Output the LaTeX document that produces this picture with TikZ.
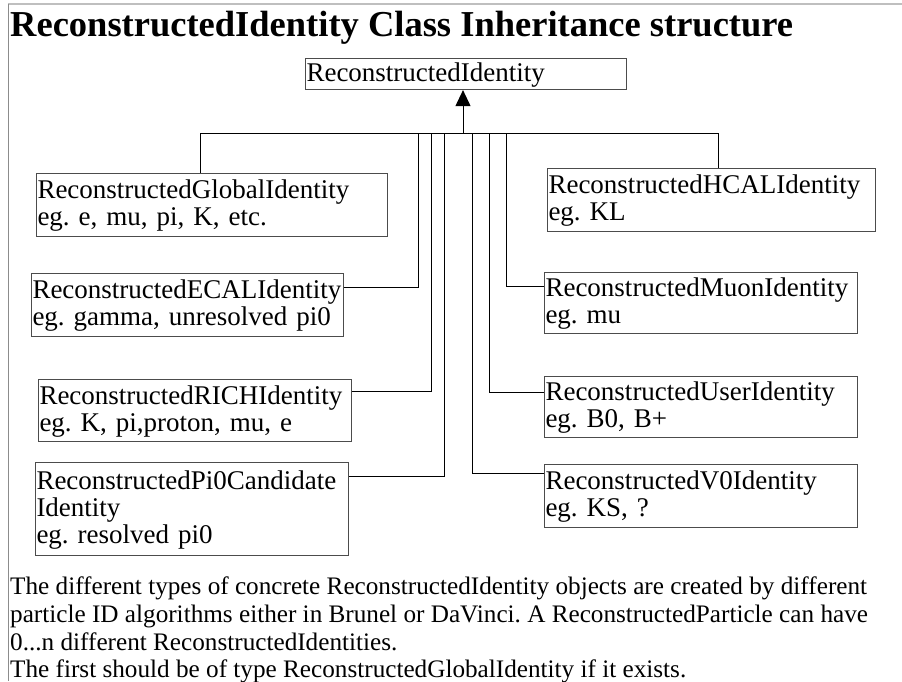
\documentclass[tikz,border=0pt]{standalone}
\usepackage{fontspec}
\setmainfont{Liberation Serif}
\usetikzlibrary{arrows.meta}
\frenchspacing

\newcommand{\boxfont}{\fontsize{27}{27}\selectfont}
\newcommand{\notefont}{\fontsize{25.2}{28}\selectfont}
\newcommand{\titlefont}{\fontsize{36.5}{40}\selectfont\bfseries}
\newcommand{\firstrow}{\rule{0pt}{23pt}}

\tikzset{
  idbox/.style 2 args={draw=black!70, line width=1pt, anchor=north west, inner xsep=1pt, inner ysep=0pt,
    align=left, font=\boxfont, text width=#1, minimum height=#2},
  note/.style={anchor=base west, inner sep=0pt, font=\notefont},
  link/.style={line width=1pt, black},
}

\begin{document}
\begin{tikzpicture}[x=1pt, y=-1pt]
\useasboundingbox (0,0) rectangle (902,681);
\draw[black!25, line width=2pt] (8,4) -- (902,4);
\draw[black!45, line width=1pt] (8,4) -- (8,681);

\node[anchor=base west, inner sep=0pt, font=\titlefont] (title) at (10,36) {ReconstructedIdentity Class Inheritance structure};

\node[idbox={319pt}{31pt}] (root) at (305,58) {\firstrow ReconstructedIdentity\strut};

\node[idbox={349pt}{63pt}] (global) at (36,173) {\firstrow ReconstructedGlobalIdentity\\eg. e, mu, pi, K, etc.\strut};
\node[idbox={310pt}{63pt}] (ecal) at (31,273) {\firstrow ReconstructedECALIdentity\\eg. gamma, unresolved pi0\strut};
\node[idbox={311pt}{62pt}] (rich) at (38,379) {\firstrow ReconstructedRICHIdentity\\eg. K, pi,proton, mu, e\strut};
\node[idbox={311pt}{93pt}] (pi0) at (35,462) {\firstrow ReconstructedPi0Candidate\\Identity\\eg. resolved pi0\strut};

\node[idbox={326pt}{63pt}] (hcal) at (547,168) {\firstrow ReconstructedHCALIdentity\\eg. KL\strut};
\node[idbox={311pt}{61pt}] (muon) at (544,272) {\firstrow ReconstructedMuonIdentity\\eg. mu\strut};
\node[idbox={311pt}{61pt}] (user) at (544,376) {\firstrow ReconstructedUserIdentity\\eg. B0, B+\strut};
\node[idbox={311pt}{63pt}] (v0) at (544,464) {\firstrow ReconstructedV0Identity\\eg. KS, ?\strut};

\coordinate (bL) at (200,133);
\coordinate (bR) at (718,133);
\coordinate (bA) at (463,133);
\draw[link] (bL) -- (bR);
\draw[link, -{Triangle[width=15pt,length=16pt]}] (bA) -- (root.south -| bA);
\draw[link] (bL) -- (bL |- global.north);
\draw[link] (bR) -- (bR |- hcal.north);
\foreach \bx/\bname/\dy/\sd in {418/ecal/14/east, 431/rich/12/east, 444/pi0/14/east,
                               472/v0/9/west, 489/user/16/west, 506/muon/14/west} {
  \coordinate (t\bname) at (\bx,133);
  \draw[link] (t\bname) |- ([yshift=-\dy pt]\bname.north \sd);
}

\node[note] (noteA) at (10,594) {The different types of concrete ReconstructedIdentity objects are created by different};
\node[note] (noteB) at (10,622) {particle ID algorithms either in Brunel or DaVinci. A ReconstructedParticle can have};
\node[note] (noteC) at (10,650) {0...n different ReconstructedIdentities.};
\node[note] (noteD) at (10,677) {The first should be of type ReconstructedGlobalIdentity if it exists.};
\end{tikzpicture}
\end{document}
